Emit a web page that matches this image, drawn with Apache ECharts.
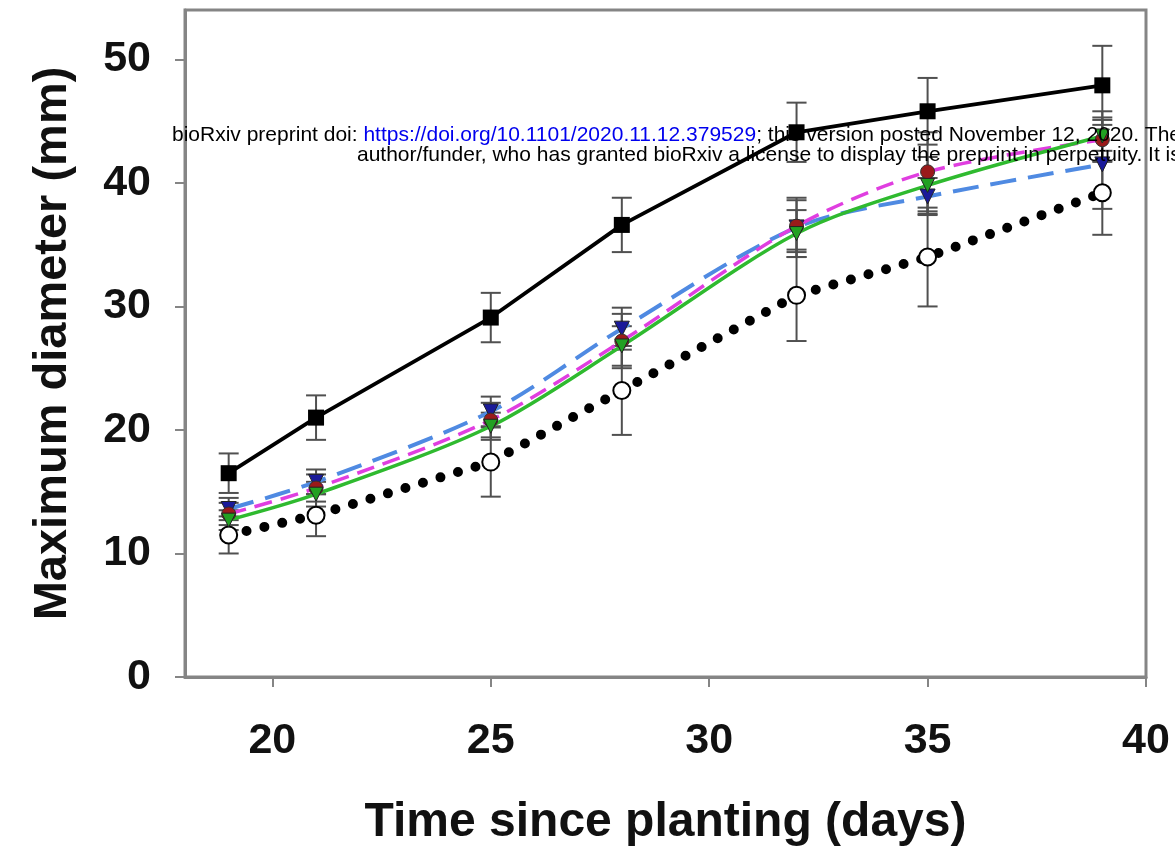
<!DOCTYPE html>
<html>
<head>
<meta charset="utf-8">
<script src="https://cdn.jsdelivr.net/npm/echarts@6/dist/echarts.min.js"></script>
<style>html,body{margin:0;padding:0;background:#fff;}#c{width:1175px;height:852px;}</style>
</head>
<body>
<div id="c"></div>
<script>
const days = [19, 21, 25, 28, 32, 35, 39];
const xTicks = [20, 25, 30, 35, 40];
const yTicks = [0, 10, 20, 30, 40, 50];

const blackMean = [16.5, 21.0, 29.1, 36.6, 44.1, 45.8, 47.9];
const blackErr  = [1.6, 1.8, 2.0, 2.2, 2.4, 2.7, 3.2];
const openMean  = [11.5, 13.1, 17.4, 23.2, 30.9, 34.0, 39.2];
const openErr   = [1.5, 1.7, 2.8, 3.6, 3.7, 4.0, 3.4];
const blueMean  = [13.6, 15.8, 21.5, 28.2, 36.4, 38.9, 41.5];
const blueErr   = [0.9, 1.0, 1.2, 1.7, 2.4, 1.5, 3.6];
const magMean   = [13.2, 15.3, 20.8, 27.2, 36.5, 40.9, 43.5];
const magErr    = [0.9, 1.1, 1.4, 2.2, 2.1, 3.2, 1.8];
const greenMean = [12.7, 14.8, 20.3, 26.8, 35.9, 39.8, 43.8];
const greenErr  = [0.8, 1.0, 1.1, 1.6, 1.9, 2.3, 2.0];

const xName = 'Time since planting (days)';
const yName = 'Maximum diameter (mm)';
const wm1a = 'bioRxiv preprint doi: ';
const wm1b = 'https://doi.org/10.1101/2020.11.12.379529';
const wm1c = '; this version posted November 12, 2020. The copyright holder for this preprint (which was not certified by peer review) is the';
const wm2 = 'author/funder, who has granted bioRxiv a license to display the preprint in perpetuity. It is made available under aCC-BY-NC-ND 4.0 International license.';

const FONT = '"Liberation Sans", Arial, Helvetica, sans-serif';
const AXC = '#858585';

function pts(mean){ return days.map((d,i)=>[d, mean[i]]); }
function errData(mean, err){ return days.map((d,i)=>[d, mean[i]-err[i], mean[i]+err[i]]); }

function errSeries(mean, err){
  return {
    type: 'custom', z: 1, silent: true,
    data: errData(mean, err),
    renderItem: function(params, api){
      const x = api.value(0), lo = api.value(1), hi = api.value(2);
      const a = api.coord([x, lo]), b = api.coord([x, hi]);
      const w = 10;
      const st = {stroke: '#505050', lineWidth: 2};
      return {type: 'group', children: [
        {type: 'line', shape: {x1: a[0], y1: a[1], x2: b[0], y2: b[1]}, style: st},
        {type: 'line', shape: {x1: a[0]-w, y1: a[1], x2: a[0]+w, y2: a[1]}, style: st},
        {type: 'line', shape: {x1: b[0]-w, y1: b[1], x2: b[0]+w, y2: b[1]}, style: st}
      ]};
    }
  };
}

const chart = echarts.init(document.getElementById('c'), null, {renderer: 'canvas'});
chart.setOption({
  animation: false,
  backgroundColor: '#fff',
  grid: {left: 185, right: 29, top: 10, bottom: 171, show: true, borderColor: AXC, borderWidth: 3, backgroundColor: 'transparent'},
  xAxis: {
    type: 'value', min: 18, max: 40,
    name: xName, nameLocation: 'middle', nameGap: 122,
    nameTextStyle: {fontFamily: FONT, fontWeight: 'bold', fontSize: 48, color: '#111'},
    axisLine: {show: true, lineStyle: {color: AXC, width: 3}},
    axisTick: {show: true, customValues: xTicks, length: 10, lineStyle: {color: AXC, width: 2}},
    axisLabel: {customValues: xTicks, margin: 43, fontFamily: FONT, fontWeight: 'bold', fontSize: 43, color: '#111'},
    splitLine: {show: false}
  },
  yAxis: {
    type: 'value', min: 0, max: 54,
    name: yName, nameLocation: 'middle', nameGap: 108,
    nameTextStyle: {fontFamily: FONT, fontWeight: 'bold', fontSize: 47, color: '#111'},
    axisLine: {show: true, lineStyle: {color: AXC, width: 3}},
    axisTick: {show: true, customValues: yTicks, length: 10, lineStyle: {color: AXC, width: 2}},
    axisLabel: {customValues: yTicks, margin: 34, fontFamily: FONT, fontWeight: 'bold', fontSize: 43, color: '#111'},
    splitLine: {show: false}
  },
  series: [
    errSeries(openMean, openErr),
    errSeries(blueMean, blueErr),
    errSeries(magMean, magErr),
    errSeries(greenMean, greenErr),
    errSeries(blackMean, blackErr),
    {
      type: 'line', z: 3, data: pts(openMean), symbol: 'circle', symbolSize: 17,
      itemStyle: {color: '#fff', borderColor: '#000', borderWidth: 2},
      lineStyle: {color: '#000', width: 10, type: [0, 18.3], cap: 'round'}
    },
    {
      type: 'line', z: 3, data: pts(blueMean), smooth: 0.3, symbol: 'triangle', symbolRotate: 180, symbolSize: 15,
      itemStyle: {color: '#1a1a9a', borderColor: '#222', borderWidth: 1},
      lineStyle: {color: '#4f8ae2', width: 4, type: [26, 12]}
    },
    {
      type: 'line', z: 3, data: pts(magMean), smooth: 0.3, symbol: 'circle', symbolSize: 14,
      itemStyle: {color: '#9a1a1a', borderColor: '#333', borderWidth: 1},
      lineStyle: {color: '#e03ee0', width: 3.5, type: [18, 9]}
    },
    {
      type: 'line', z: 3, data: pts(greenMean), smooth: 0.3, symbol: 'triangle', symbolRotate: 180, symbolSize: 14,
      itemStyle: {color: '#22a022', borderColor: '#222', borderWidth: 1},
      lineStyle: {color: '#2fba2f', width: 3.5}
    },
    {
      type: 'line', z: 4, data: pts(blackMean), symbol: 'rect', symbolSize: 16,
      itemStyle: {color: '#000', borderColor: '#000', borderWidth: 0},
      lineStyle: {color: '#000', width: 3.8}
    }
  ],
  graphic: [
    {
      type: 'text', left: 172, top: 125, z: 100, silent: true,
      style: {
        text: '{a|' + wm1a + '}{b|' + wm1b + '}{a|' + wm1c + '}',
        rich: {
          a: {fontFamily: FONT, fontSize: 21, fill: '#000', color: '#000'},
          b: {fontFamily: FONT, fontSize: 21, fill: '#0000ee', color: '#0000ee'}
        }
      }
    },
    {
      type: 'text', left: 357, top: 145, z: 100, silent: true,
      style: {text: wm2, fontFamily: FONT, fontSize: 21, fill: '#000'}
    }
  ]
});
</script>
</body>
</html>
